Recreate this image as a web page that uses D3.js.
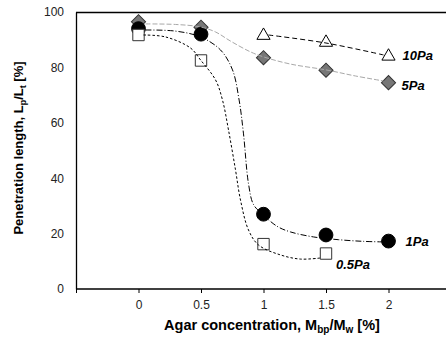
<!DOCTYPE html>
<html><head><meta charset="utf-8">
<script src="https://cdn.jsdelivr.net/npm/d3@7"></script>
<style>body{margin:0;background:#fff}svg{display:block;font-family:Arial,"Liberation Sans",sans-serif}</style>
</head><body><svg id="c" width="446" height="342"></svg>
<script>
const xTicks = [0, 0.5, 1, 1.5, 2];
const yTicks = [0, 20, 40, 60, 80, 100];
// measured points
const x05 = [0, 0.5, 1, 1.5];      const y05 = [91.7, 82.5, 16.2, 12.8];
const x1  = [0, 0.5, 1, 1.5, 2];   const y1  = [94.0, 92.0, 27.0, 19.5, 17.3];
const x5  = [0, 0.5, 1, 1.5, 2];   const y5  = [96.5, 94.5, 83.5, 79.0, 74.5];
const x10 = [1, 1.5, 2];           const y10 = [91.5, 89.0, 84.0];
// fitted curves
const fx05 = [0.04, 0.216, 0.416, 0.496, 0.616, 0.672, 0.72, 0.776, 0.816, 0.88, 0.96, 1.136, 1.296, 1.456];
const fy05 = [91.7, 91.0, 87.0, 82.7, 75.5, 68.2, 57.4, 43.0, 32.1, 21.3, 15.9, 12.3, 10.8, 11.2];
const fx1 = [0.056, 0.296, 0.496, 0.656, 0.752, 0.805, 0.84, 0.88, 0.92, 0.992, 1.11, 1.216, 1.4, 1.6, 1.8, 1.96];
const fy1 = [93.5, 93.1, 91.0, 86.3, 79.1, 68.2, 56.0, 38.0, 30.5, 27.0, 22.6, 20.6, 18.8, 17.8, 17.2, 17.0];
const fx5 = [0.056, 0.296, 0.496, 0.616, 0.736, 0.896, 1.0, 1.216, 1.5, 1.736, 1.96];
const fy5 = [95.7, 95.5, 94.6, 92.8, 89.5, 85.6, 83.8, 81.2, 79.1, 76.9, 75.1];
const fx10 = [1.04, 1.5, 1.96];
const fy10 = [91.7, 88.8, 84.5];
const labels = ["0.5Pa", "1Pa", "5Pa", "10Pa"];

const svg = d3.select("#c");
const L = 76, R = 446, T = 12, B = 289;
const x = d3.scaleLinear().domain([-0.5, 2.46]).range([L, R]);
const y = d3.scaleLinear().domain([0, 100]).range([B, T]);

// frame
svg.append("line").attr("x1", L).attr("x2", R).attr("y1", T + 0.5).attr("y2", T + 0.5).attr("stroke", "#000").attr("stroke-width", 1.3);
const xa = svg.append("g").attr("transform", `translate(0,${B})`)
  .call(d3.axisBottom(x).tickValues([-0.5].concat(xTicks)).tickSize(4).tickFormat(d => d < 0 ? "" : d3.format("")(d)));
xa.select(".domain").attr("stroke-width", 1.3).attr("d", `M${L},0H${R}`);
xa.selectAll("text").attr("font-size", 12).attr("fill", "#222").attr("dy", "1.1em").attr("font-family", "Arial, Liberation Sans, sans-serif");
const ya = svg.append("g").attr("transform", `translate(${L},0)`)
  .call(d3.axisLeft(y).tickValues(yTicks).tickSize(0).tickPadding(12));
ya.select(".domain").attr("stroke-width", 1.3);
ya.selectAll("text").attr("font-size", 12).attr("fill", "#222").attr("font-family", "Arial, Liberation Sans, sans-serif");

const line = d3.line().x(d => x(d[0])).y(d => y(d[1])).curve(d3.curveCatmullRom.alpha(0.5));
const zip = (a, b) => a.map((v, i) => [v, b[i]]);

// markers
const sym = (type, size) => d3.symbol().type(type).size(size)();
function markers(xs, ys, type, size, fill, stroke, rot) {
  svg.append("g").selectAll("path").data(zip(xs, ys)).join("path")
    .attr("d", sym(type, size))
    .attr("transform", d => `translate(${x(d[0])},${y(d[1])}) rotate(${rot || 0})`)
    .attr("fill", fill).attr("stroke", stroke).attr("stroke-width", 1);
}
markers(x5, y5, d3.symbolSquare, 100, "#777", "#333", 45);
markers(x1, y1, d3.symbolCircle, 150, "#000", "#000");
markers(x05, y05, d3.symbolSquare, 130, "#fff", "#333");
markers(x10, y10, d3.symbolTriangle, 75, "#fff", "#000");

// curves
svg.append("path").attr("d", line(zip(fx5, fy5))).attr("fill", "none").attr("stroke", "#a8a8a8").attr("stroke-width", 1).attr("stroke-dasharray", "5,2");
svg.append("path").attr("d", line(zip(fx10, fy10))).attr("fill", "none").attr("stroke", "#000").attr("stroke-width", 1).attr("stroke-dasharray", "5,3");
svg.append("path").attr("d", line(zip(fx1, fy1))).attr("fill", "none").attr("stroke", "#000").attr("stroke-width", 1).attr("stroke-dasharray", "6,2,1,2");
svg.append("path").attr("d", line(zip(fx05, fy05))).attr("fill", "none").attr("stroke", "#000").attr("stroke-width", 1).attr("stroke-dasharray", "2.5,2");

// series labels
const lab = svg.append("g").attr("font-size", 13).attr("font-weight", "bold").attr("font-style", "italic");
lab.append("text").attr("x", x(1.5) + 10).attr("y", y(y05[3]) + 15).text(labels[0]);
lab.append("text").attr("x", x(2) + 17).attr("y", y(y1[4]) + 5).text(labels[1]);
lab.append("text").attr("x", x(2) + 13).attr("y", y(y5[4]) + 7).text(labels[2]);
lab.append("text").attr("x", x(2) + 14).attr("y", y(y10[2]) + 4).text(labels[3]);

// axis titles
const xt = svg.append("text").attr("x", 272).attr("y", 330).attr("text-anchor", "middle").attr("font-size", 14.5).attr("font-weight", "bold");
xt.append("tspan").text("Agar concentration, M");
xt.append("tspan").attr("font-size", 10).attr("dy", 3).text("bp");
xt.append("tspan").attr("dy", -3).text("/M");
xt.append("tspan").attr("font-size", 10).attr("dy", 3).text("w");
xt.append("tspan").attr("dy", -3).text(" [%]");
const yt = svg.append("text").attr("transform", "translate(23,148) rotate(-90)").attr("text-anchor", "middle").attr("font-size", 13).attr("font-weight", "bold");
yt.append("tspan").text("Penetration length, L");
yt.append("tspan").attr("font-size", 9).attr("dy", 3).text("p");
yt.append("tspan").attr("dy", -3).text("/L");
yt.append("tspan").attr("font-size", 9).attr("dy", 3).text("t");
yt.append("tspan").attr("dy", -3).text(" [%]");
</script></body></html>
